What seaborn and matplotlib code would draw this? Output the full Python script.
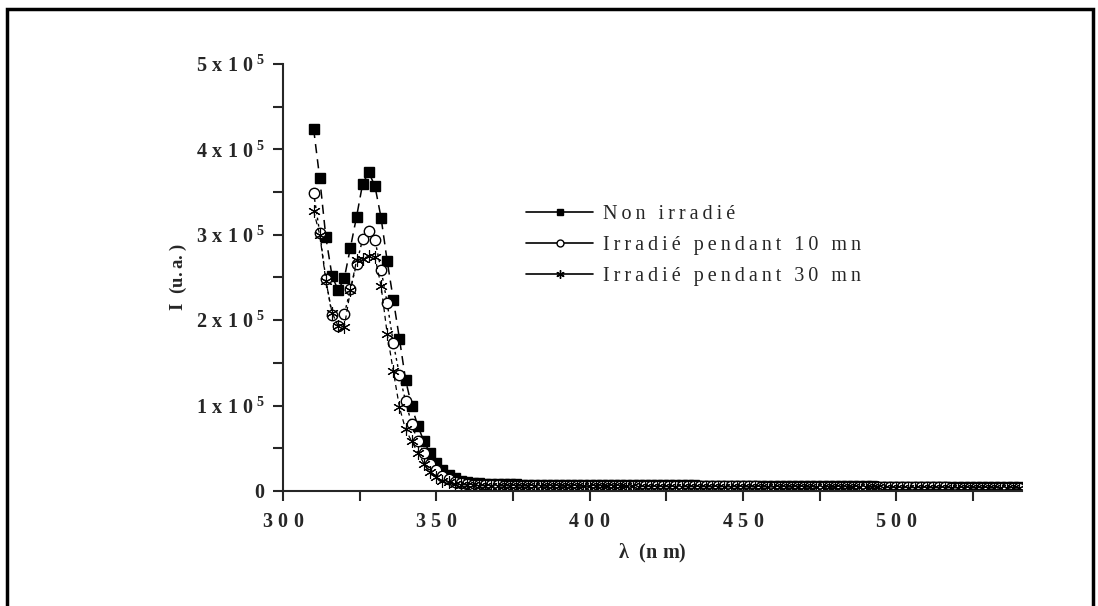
import numpy as np
import pandas as pd
import matplotlib
matplotlib.use("Agg")
import matplotlib.pyplot as plt
import seaborn as sns
from matplotlib.lines import Line2D
from matplotlib.patches import Rectangle
from matplotlib.ticker import MultipleLocator, FixedLocator, FixedFormatter

# wavelength grid (nm), 2 nm step
wavelength = np.arange(310, 541, 2)

# intensities in units of 1e3 (u.a.)
non_irradie = [
    424, 366, 297, 252, 235, 249, 285, 321, 360, 373, 357, 320, 269, 224, 178, 130,
    99, 76, 58, 44, 33, 25, 19, 15, 12, 10.5, 9.5, 9.0, 8.5, 8.2, 8.0,
    7.8, 7.7, 7.6, 7.5, 7.5, 7.4, 7.4, 7.3, 7.3, 7.2, 7.2, 7.2, 7.1, 7.1, 7.0,
    7.0, 7.0, 6.9, 6.9, 6.9, 6.8, 6.8, 6.8, 6.7, 6.7, 6.7, 6.6, 6.6, 6.6, 6.5,
    6.5, 6.5, 6.4, 6.4, 6.4, 6.3, 6.3, 6.3, 6.2, 6.2,
    6.2, 6.1, 6.1, 6.1, 6.0, 6.0, 6.0, 5.9, 5.9, 5.8, 5.8, 5.7, 5.7, 5.6, 5.6,
    5.5, 5.5, 5.4, 5.4, 5.3, 5.3, 5.2, 5.2, 5.1, 5.1,
    5.0, 5.0, 4.9, 4.9, 4.8, 4.8, 4.7, 4.7, 4.6, 4.6, 4.5, 4.5, 4.4, 4.4, 4.3,
    4.3, 4.2, 4.2, 4.1, 4.1,
]
irradie_10 = [
    349, 302, 248, 206, 193, 207, 236, 266, 295, 305, 294, 259, 220, 173, 136, 105,
    78, 58, 45, 32, 24, 18, 14, 11, 9.0, 8.0, 7.5, 7.0, 6.8, 6.6, 6.5,
    6.4, 6.4, 6.3, 6.3, 6.3, 6.2, 6.2, 6.2, 6.1, 6.1, 6.1, 6.0, 6.0, 6.0, 6.0,
    5.9, 5.9, 5.9, 5.9, 5.8, 5.8, 5.8, 5.8, 5.7, 5.7, 5.7, 5.7, 5.6, 5.6, 5.6,
    5.6, 5.5, 5.5, 5.5, 5.5, 5.4, 5.4, 5.4, 5.4, 5.3,
    5.3, 5.3, 5.2, 5.2, 5.2, 5.1, 5.1, 5.1, 5.0, 5.0, 4.9, 4.9, 4.9, 4.8, 4.8,
    4.7, 4.7, 4.7, 4.6, 4.6, 4.5, 4.5, 4.5, 4.4, 4.4,
    4.3, 4.3, 4.3, 4.2, 4.2, 4.1, 4.1, 4.1, 4.0, 4.0, 3.9, 3.9, 3.9, 3.8, 3.8,
    3.7, 3.7, 3.7, 3.6, 3.6,
]
irradie_30 = [
    328, 300, 246, 209, 193, 192, 235, 270, 272, 275, 274, 240, 184, 140, 98, 72,
    58, 45, 32, 22, 16, 12, 10, 8.5, 7.5, 7.0, 6.6, 6.3, 6.1, 6.0, 5.9,
    5.8, 5.8, 5.8, 5.7, 5.7, 5.7, 5.6, 5.6, 5.6, 5.6, 5.5, 5.5, 5.5, 5.5, 5.4,
    5.4, 5.4, 5.4, 5.3, 5.3, 5.3, 5.3, 5.2, 5.2, 5.2, 5.2, 5.1, 5.1, 5.1, 5.1,
    5.0, 5.0, 5.0, 5.0, 4.9, 4.9, 4.9, 4.9, 4.8, 4.8,
    4.8, 4.7, 4.7, 4.7, 4.6, 4.6, 4.6, 4.5, 4.5, 4.5, 4.4, 4.4, 4.4, 4.3, 4.3,
    4.3, 4.2, 4.2, 4.2, 4.1, 4.1, 4.1, 4.0, 4.0, 4.0,
    3.9, 3.9, 3.9, 3.8, 3.8, 3.8, 3.7, 3.7, 3.7, 3.6, 3.6, 3.6, 3.5, 3.5, 3.5,
    3.4, 3.4, 3.4, 3.3, 3.3,
]

series_labels = ["Non irradié", "Irradié pendant 10 mn", "Irradié pendant 30 mn"]
y_ticks = [0, 1e5, 2e5, 3e5, 4e5, 5e5]
y_tick_labels = [r"$\mathbf{0}$", r"$\mathbf{1\;x\;1\;0^{\;5}}$", r"$\mathbf{2\;x\;1\;0^{\;5}}$",
                 r"$\mathbf{3\;x\;1\;0^{\;5}}$", r"$\mathbf{4\;x\;1\;0^{\;5}}$", r"$\mathbf{5\;x\;1\;0^{\;5}}$"]
x_ticks = [300, 350, 400, 450, 500]
x_tick_labels = [r"$\mathbf{3\;0\;0}$", r"$\mathbf{3\;5\;0}$", r"$\mathbf{4\;0\;0}$",
                 r"$\mathbf{4\;5\;0}$", r"$\mathbf{5\;0\;0}$"]


def spaced(s):
    # Origin-style letter spacing
    return "\u2009".join(s)


df = pd.DataFrame({
    "wl": np.tile(wavelength, 3),
    "I": np.concatenate([non_irradie, irradie_10, irradie_30]) * 1e3,
    "serie": np.repeat(series_labels, len(wavelength)),
})

sns.set_style("ticks")
plt.rcParams["font.family"] = ["Liberation Serif", "DejaVu Serif"]
plt.rcParams["mathtext.fontset"] = "custom"
plt.rcParams["mathtext.bf"] = "Liberation Serif:bold"
plt.rcParams["mathtext.rm"] = "Liberation Serif"

fig = plt.figure(figsize=(10.98, 6.06), dpi=100)
ax = fig.add_axes([0.2577, 0.1898, 0.673, 0.7046])

styles = {
    "Non irradié": dict(marker="s", ms=7, mfc="k", mec="k", mew=1.0, ls=(0, (6, 4)), lw=1.1),
    "Irradié pendant 10 mn": dict(marker="o", ms=7.5, mfc="white", mec="k", mew=1.0, ls=(0, (2, 2.5)), lw=1.0),
    "Irradié pendant 30 mn": dict(marker=(6, 2, 0), ms=9, mfc="k", mec="k", mew=0.8, ls=(0, (4, 3)), lw=0.9),
}
for name in series_labels:
    sub = df[df["serie"] == name]
    st = styles[name]
    sns.lineplot(data=sub, x="wl", y="I", ax=ax, color="k", marker=st["marker"],
                 markersize=st["ms"], markerfacecolor=st["mfc"], markeredgecolor=st["mec"],
                 markeredgewidth=st["mew"], linestyle=st["ls"], linewidth=st["lw"],
                 legend=False)

ax.set_xlim(300, 541)
ax.set_ylim(0, 5e5)
ax.xaxis.set_major_locator(FixedLocator(x_ticks))
ax.xaxis.set_major_formatter(FixedFormatter(x_tick_labels))
ax.xaxis.set_minor_locator(MultipleLocator(25))
ax.yaxis.set_major_locator(FixedLocator(y_ticks))
ax.yaxis.set_major_formatter(FixedFormatter(y_tick_labels))
ax.yaxis.set_minor_locator(MultipleLocator(5e4))
ax.tick_params(axis="both", which="both", direction="out", width=1.5, length=7, labelsize=14.5, pad=6)
ax.tick_params(axis="x", which="major", pad=9)

sns.despine(ax=ax)
ax.spines["left"].set_linewidth(1.5)
ax.spines["bottom"].set_linewidth(1.5)
ax.set_facecolor("white")

ax.set_xlabel(r"$\mathbf{\lambda\;\;(n\;m)}$", fontsize=14.5, labelpad=7)
ax.set_ylabel(r"$\mathbf{I\;\;(u.a.)}$", fontsize=13.5, labelpad=5)

handles = [
    Line2D([], [], color="k", lw=1.2, marker="s", ms=5, mfc="k", mec="k"),
    Line2D([], [], color="k", lw=1.2, marker="o", ms=5, mfc="white", mec="k"),
    Line2D([], [], color="k", lw=1.2, marker=(6, 2, 0), ms=6, mec="k"),
]
fig.legend(handles, [spaced(s) for s in series_labels], loc="upper left",
           bbox_to_anchor=(0.472, 0.675), frameon=False, fontsize=14.5,
           handlelength=3.3, handletextpad=0.5, labelspacing=0.6, borderaxespad=0)

# outer frame of the figure
fig.patches.append(Rectangle((0.0065, -0.05), 0.9885, 1.035, transform=fig.transFigure,
                             fill=False, edgecolor="k", linewidth=2.5, zorder=10))

fig.savefig("out.png", dpi=100, facecolor="white")
